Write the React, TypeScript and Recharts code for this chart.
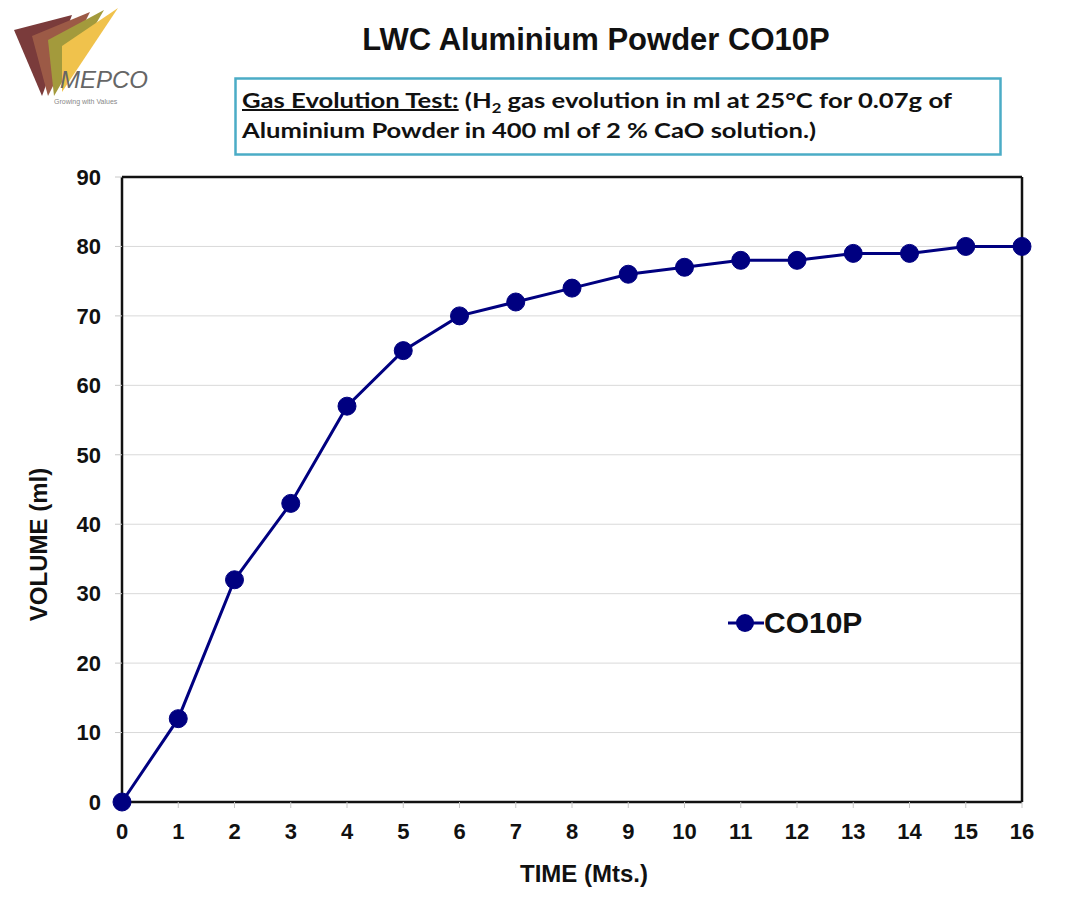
import React from 'react';
import {
  LineChart,
  Line,
  XAxis,
  YAxis,
  CartesianGrid,
  ReferenceLine
} from 'recharts';

// Gas evolution readings
const minutes = [0, 1, 2, 3, 4, 5, 6, 7, 8, 9, 10, 11, 12, 13, 14, 15, 16];
const volumeMl = [0, 12, 32, 43, 57, 65, 70, 72, 74, 76, 77, 78, 78, 79, 79, 80, 80];
const volumeTicks = [0, 10, 20, 30, 40, 50, 60, 70, 80, 90];
const seriesName = 'CO10P';

const chartData = minutes.map((t, i) => ({ time: t, volume: volumeMl[i] }));

const FONT = '"Liberation Sans", Arial, Helvetica, sans-serif';
const NAVY = '#000080';

const tickStyle = { fill: '#111', fontSize: 22, fontWeight: 'bold', fontFamily: FONT };

const Logo: React.FC = () => (
  <svg width={160} height={120} style={{ position: 'absolute', left: 0, top: 0 }}>
    <polygon points="42,96 14,30 72,15" fill="#7a3b3b" />
    <polygon points="48,96 32,36 90,12" fill="#9c5a46" />
    <polygon points="54,96 48,40 104,10" fill="#a39a3c" />
    <polygon points="62,92 62,46 118,8" fill="#f0c24c" />
    <text x={60} y={88} fontFamily={FONT} fontSize={24} fontStyle="italic" fill="#666">MEPCO</text>
    <text x={54} y={104} fontFamily={FONT} fontSize={7} fill="#888">Growing with Values</text>
  </svg>
);

const Header: React.FC = () => (
  <>
    <div style={{
      position: 'absolute', left: 296, top: 22, width: 600, textAlign: 'center',
      fontFamily: FONT, fontWeight: 'bold', fontSize: 31, color: '#111'
    }}>
      LWC Aluminium Powder CO10P
    </div>
    <svg width={770} height={80} style={{ position: 'absolute', left: 234, top: 77 }}>
      <rect x={1.5} y={1.5} width={765} height={76} fill="#fff" stroke="#4bacc6" strokeWidth={2.5} />
      <text x={8} y={31} fontFamily="Lato, 'Open Sans', sans-serif" fontWeight="bold" fontSize={20} fill="#111"
        textLength={710} lengthAdjust="spacingAndGlyphs">
        <tspan textDecoration="underline">Gas Evolution Test:</tspan>
        <tspan> (H</tspan>
        <tspan fontSize={13} dy={5}>2</tspan>
        <tspan dy={-5}> gas evolution in ml at 25°C for 0.07g of</tspan>
      </text>
      <text x={8} y={61} fontFamily="Lato, 'Open Sans', sans-serif" fontWeight="bold" fontSize={20} fill="#111"
        textLength={574} lengthAdjust="spacingAndGlyphs">
        Aluminium Powder in 400 ml of 2 % CaO solution.)
      </text>
    </svg>
  </>
);

const LegendBox: React.FC = () => (
  <div style={{
    position: 'absolute', left: 728, top: 606, display: 'flex', alignItems: 'center',
    fontFamily: FONT, fontWeight: 'bold', fontSize: 30, color: '#111'
  }}>
    <svg width={36} height={24}>
      <line x1={0} y1={12} x2={36} y2={12} stroke={NAVY} strokeWidth={3} />
      <circle cx={17} cy={12} r={9} fill={NAVY} />
    </svg>
    <span>{seriesName}</span>
  </div>
);

export default function App() {
  return (
    <div style={{ position: 'absolute', left: 0, top: 0, width: 1084, height: 921, background: '#fff' }}>
      <Logo />
      <Header />
      <div style={{ position: 'absolute', left: 0, top: 0 }}>
        <LineChart width={1084} height={921} data={chartData}
          margin={{ top: 177, right: 62, left: 22, bottom: 29 }}>
          <CartesianGrid vertical={false} stroke="#d9d9d9" strokeWidth={1} />
          <XAxis
            dataKey="time"
            type="number"
            domain={[0, 16]}
            ticks={minutes}
            height={90}
            axisLine={{ stroke: '#111', strokeWidth: 2.5 }}
            tickLine={{ stroke: '#c8c8c8', strokeWidth: 1 }}
            tickSize={6}
            tickMargin={15}
            tick={tickStyle}
            label={{
              content: (props: any) => {
                const vb = props.viewBox;
                return (
                  <text x={vb.x + vb.width / 2 + 12} y={vb.y + 80} textAnchor="middle"
                    fontFamily={FONT} fontWeight="bold" fontSize={24} fill="#111">
                    TIME (Mts.)
                  </text>
                );
              }
            }}
          />
          <YAxis
            type="number"
            domain={[0, 90]}
            ticks={volumeTicks}
            width={100}
            axisLine={{ stroke: '#111', strokeWidth: 2.5 }}
            tickLine={{ stroke: '#c8c8c8', strokeWidth: 1 }}
            tickSize={7}
            tickMargin={14}
            tick={tickStyle}
            label={{
              content: (props: any) => {
                const vb = props.viewBox;
                const cx = vb.x + 16;
                const cy = vb.y + vb.height / 2 + 55;
                return (
                  <text x={cx} y={cy} transform={`rotate(-90 ${cx} ${cy})`} textAnchor="middle"
                    dominantBaseline="central" fontFamily={FONT} fontWeight="bold" fontSize={24} fill="#111">
                    VOLUME (ml)
                  </text>
                );
              }
            }}
          />
          <ReferenceLine y={90} stroke="#111" strokeWidth={2.5} />
          <ReferenceLine x={16} stroke="#111" strokeWidth={2.5} />
          <Line
            type="linear"
            dataKey="volume"
            name={seriesName}
            stroke={NAVY}
            strokeWidth={3}
            dot={{ r: 9, fill: NAVY, stroke: NAVY, strokeWidth: 1 }}
            activeDot={false}
            isAnimationActive={false}
          />
        </LineChart>
      </div>
      <LegendBox />
    </div>
  );
}
